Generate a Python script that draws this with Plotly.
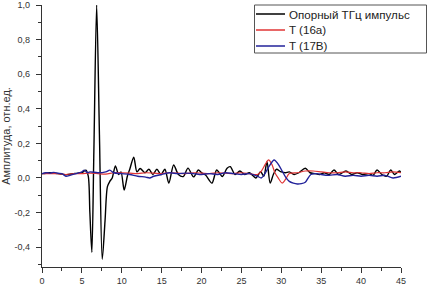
import plotly.graph_objects as go

# Reference THz pulse
ref_x = [0, 0.5, 1, 1.5, 2, 2.5, 3, 3.5, 4, 4.5, 5, 5.5, 5.8, 6.0, 6.25, 6.5, 6.85, 7.2, 7.55, 7.9,
         8.2, 8.5, 8.8, 9.2, 9.6, 9.9, 10.3, 10.7, 11.0, 11.5, 11.9, 12.3, 12.9, 13.4, 13.9, 14.4,
         14.9, 15.4, 15.9, 16.5, 17.1, 17.7, 18.3, 19.0, 19.6, 20.0, 20.5, 21.3, 21.9, 22.6, 23.2,
         23.6, 24.2, 24.8, 25.4, 26.0, 26.8, 27.4, 27.8, 28.2, 28.6, 29.0, 29.4, 29.9, 30.5, 31.0,
         31.6, 32.2, 33.0, 33.6, 34.2, 34.8, 35.4, 36.0, 36.6, 37.2, 38.1, 38.8, 39.5, 40.2, 41.0,
         41.5, 42.0, 42.6, 43.2, 43.7, 44.2, 44.8, 45.0]
ref_y = [0.025, 0.027, 0.03, 0.028, 0.025, 0.022, 0.018, 0.022, 0.025, 0.028, 0.03, 0.045, 0.01,
         -0.2, -0.43, 0.15, 1.0, 0.25, -0.47, -0.25, -0.05, -0.02, 0.0, 0.07, 0.02, 0.035, -0.07,
         0.01, 0.05, 0.12, 0.035, 0.055, 0.03, 0.05, 0.02, 0.05, 0.02, 0.05, -0.03, 0.075, 0.02,
         0.008, 0.057, 0.006, 0.046, 0.03, 0.017, -0.03, 0.046, 0.008, 0.056, 0.065, 0.02, 0.04,
         0.02, 0.03, 0.0, 0.036, 0.01, 0.094, -0.03, 0.02, 0.05, 0.036, 0.03, 0.035, 0.02, 0.03,
         0.056, 0.03, 0.025, 0.02, 0.03, 0.02, 0.046, 0.02, 0.04, 0.02, 0.03, 0.02, 0.025, 0.015,
         0.046, 0.02, 0.01, 0.046, 0.02, 0.04, 0.03]

# T (16a)
t16_x = [0, 1, 2, 3, 4, 5, 6, 7, 8, 9, 10, 11, 12, 13, 14, 15, 16, 17, 18, 19, 20, 21, 22, 23, 24,
         25, 26, 27, 27.5, 28, 28.4, 28.8, 29.2, 29.6, 30.1, 30.5, 31, 32, 33, 34, 35, 36, 37, 38,
         39, 40, 41, 42, 43, 44, 45]
t16_y = [0.025, 0.025, 0.025, 0.02, 0.025, 0.025, 0.028, 0.025, 0.022, 0.03, 0.03, 0.028, 0.025,
         0.03, 0.028, 0.025, 0.03, 0.028, 0.025, 0.03, 0.028, 0.025, 0.03, 0.028, 0.025, 0.03,
         0.025, 0.02, 0.04, 0.08, 0.104, 0.08, 0.03, 0.0, -0.03, -0.01, 0.025, 0.03, 0.04, 0.04,
         0.035, 0.03, 0.03, 0.035, 0.03, 0.03, 0.025, 0.03, 0.03, 0.035, 0.03]

# T (17B)
t17_x = [0, 0.5, 1, 1.5, 2, 2.5, 3, 3.5, 4, 4.5, 5, 5.3, 5.7, 6, 7, 8, 8.5, 9, 10, 11, 12, 13, 13.5,
         14, 15, 16, 17, 18, 19, 20, 21, 22, 23, 24, 25, 26, 27, 27.5, 28, 28.5, 29.1, 29.6, 30.1,
         30.6, 31, 31.5, 32, 32.5, 33, 33.7, 34.5, 35, 36, 37, 38, 39, 40, 41, 42, 43, 44, 45]
t17_y = [0.025, 0.03, 0.028, 0.032, 0.027, 0.025, 0.01, 0.015, 0.022, 0.028, 0.035, 0.045, 0.03,
         0.035, 0.03, 0.035, 0.045, 0.03, 0.025, 0.02, 0.01, 0.005, 0.0, 0.01, 0.02, 0.03, 0.025,
         0.028, 0.025, 0.02, 0.025, 0.02, 0.03, 0.025, 0.02, 0.025, 0.01, 0.0, 0.03, 0.07, 0.104,
         0.08, 0.04, 0.0, -0.02, -0.03, -0.035, -0.033, -0.025, 0.02, 0.025, 0.02, 0.015, 0.02,
         0.01, 0.015, 0.01, 0.015, 0.01, 0.015, 0.0, 0.01]

x_ticks = [0, 5, 10, 15, 20, 25, 30, 35, 40, 45]
y_ticks = [-0.4, -0.2, 0.0, 0.2, 0.4, 0.6, 0.8, 1.0]
y_labels = ["-0,4", "-0,2", "0,0", "0,2", "0,4", "0,6", "0,8", "1,0"]

names = ["Опорный ТГц импульс", "T (16a)", "T (17B)"]
colors = ["black", "#e03535", "#22229a"]
widths = [1.4, 1.2, 1.4]

W, H = 427, 290
L, R, T, B = 42, 26, 5, 23
PW, PH = W - L - R, H - T - B


def px(xp):
    return (xp - L) / PW


def py(yp):
    return 1 - (yp - T) / PH


fig = go.Figure()
for xs, ys, n, c, w in zip([ref_x, t16_x, t17_x], [ref_y, t16_y, t17_y], names, colors, widths):
    fig.add_trace(go.Scatter(x=xs, y=ys, mode="lines", name=n, showlegend=False,
                             line=dict(color=c, width=w, shape="spline", smoothing=0.8)))

# legend drawn as a framed box
shapes = [dict(type="rect", xref="paper", yref="paper", x0=px(254.5), x1=px(426.5),
               y0=py(53), y1=py(5), line=dict(color="#555", width=1), fillcolor="white",
               layer="above")]
annotations = []
for i, (n, c) in enumerate(zip(names, colors)):
    yc = 14 + 16 * i
    shapes.append(dict(type="line", xref="paper", yref="paper", x0=px(256), x1=px(285),
                       y0=py(yc), y1=py(yc), line=dict(color=c, width=1.5), layer="above"))
    annotations.append(dict(xref="paper", yref="paper", x=px(287), y=py(yc), text=n,
                            showarrow=False, xanchor="left", yanchor="middle",
                            font=dict(size=11.6, color="#222")))

font = "Liberation Sans, Arial, sans-serif"
fig.update_layout(
    width=W, height=H,
    margin=dict(l=L, r=R, t=T, b=B),
    paper_bgcolor="white", plot_bgcolor="white",
    font=dict(family=font, size=9, color="#333"),
    showlegend=False,
    shapes=shapes, annotations=annotations,
    xaxis=dict(range=[0, 45], showline=True, linecolor="#333", linewidth=1.2, automargin=False,
               ticks="outside", ticklen=5, tickcolor="#333", tickwidth=1,
               tickvals=x_ticks, ticktext=[str(v) for v in x_ticks], ticklabelstandoff=0,
               minor=dict(ticks="outside", ticklen=3, dtick=2.5, tick0=0, tickcolor="#333"),
               showgrid=False, zeroline=False, mirror=False),
    yaxis=dict(range=[-0.515, 1.0], showline=True, linecolor="#333", linewidth=1.2, automargin=False,
               ticks="outside", ticklen=5, tickcolor="#333", tickwidth=1,
               tickvals=y_ticks, ticktext=y_labels, ticklabelstandoff=4,
               minor=dict(ticks="outside", ticklen=3, dtick=0.1, tick0=0, tickcolor="#333"),
               showgrid=False, zeroline=False, mirror=False,
               title=dict(text="Амплитуда, отн.ед.", font=dict(size=11, color="#333"), standoff=2)),
)
fig.write_html("out.html", config={"displayModeBar": False},
               post_script="document.body.style.margin='0';")
